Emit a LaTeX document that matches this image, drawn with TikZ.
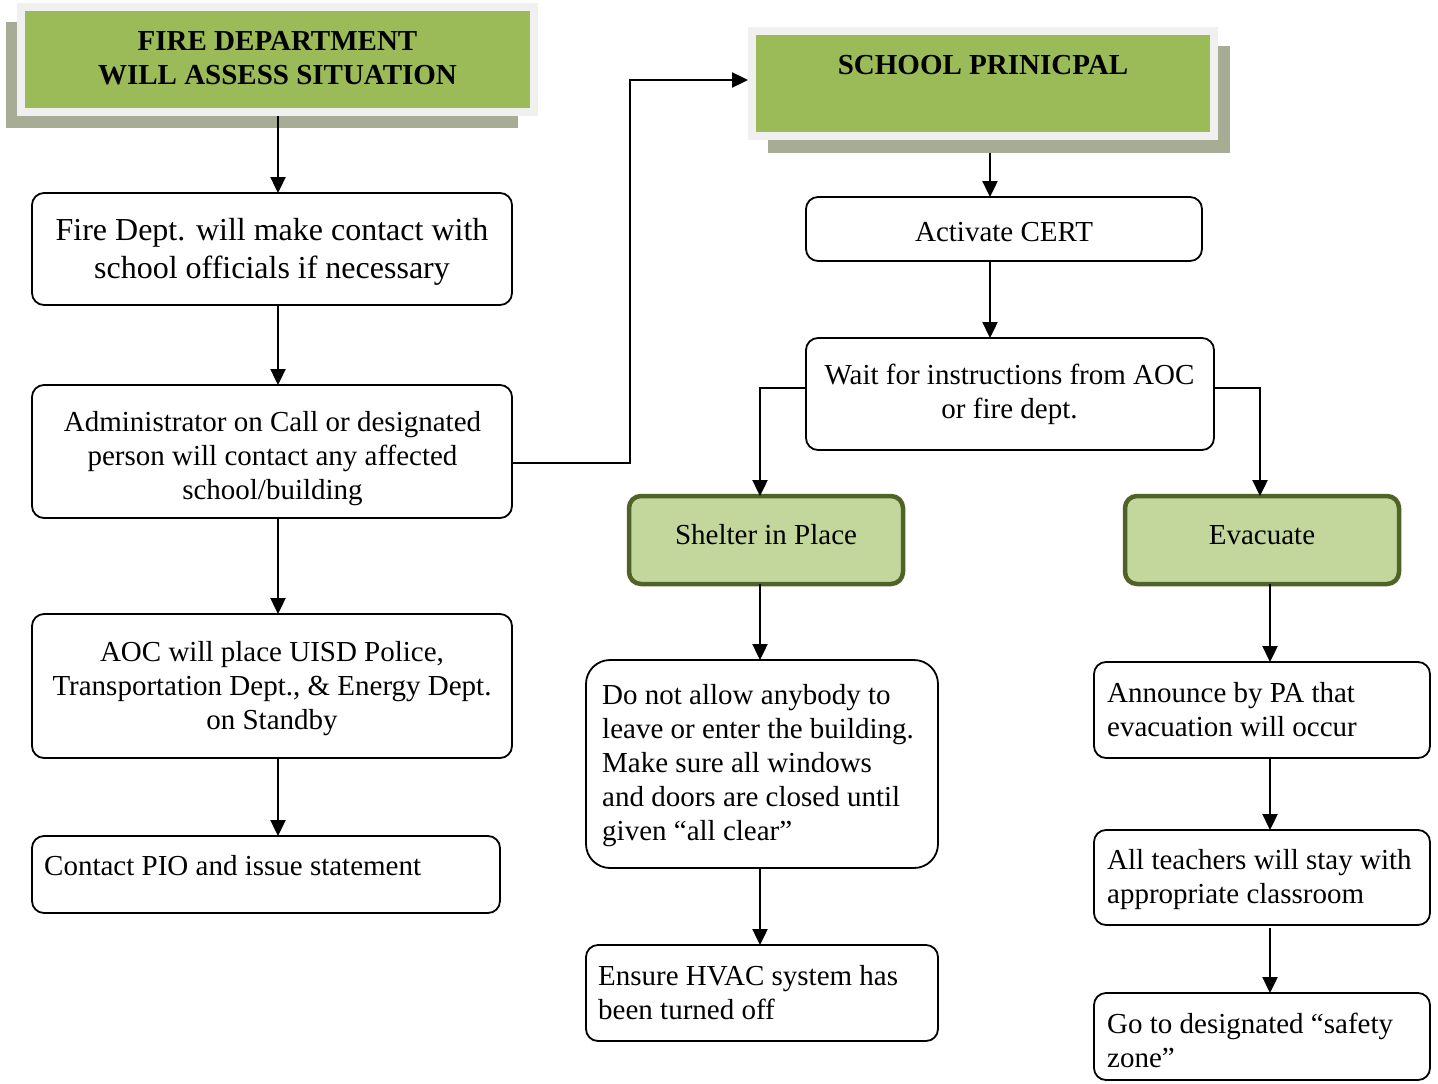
\documentclass[tikz,border=0pt]{standalone}
\usepackage{fontspec}
\setmainfont{Liberation Serif}
\usetikzlibrary{arrows.meta}

\definecolor{hdrgreen}{HTML}{9BBB59}
\definecolor{hdrframe}{HTML}{F0F0F0}
\definecolor{hdrshadow}{HTML}{A6AD94}
\definecolor{optfill}{HTML}{C3D69B}
\definecolor{optline}{HTML}{4F6228}

\begin{document}
\begin{tikzpicture}[x=1pt,y=-1pt,
  box/.style={draw=black, line width=1.8pt, rounded corners=12pt, fill=white,
              inner sep=0pt, outer sep=0pt},
  optbox/.style={draw=optline, line width=4.5pt, rounded corners=12pt, fill=optfill,
              inner sep=0pt, outer sep=0pt},
  frame/.style={fill=hdrframe, inner sep=0pt, outer sep=0pt},
  green/.style={fill=hdrgreen, inner sep=0pt, outer sep=0pt},
  shade/.style={fill=hdrshadow, inner sep=0pt, outer sep=0pt},
  linetxt/.style={inner sep=0pt, font=\fontsize{29}{34}\selectfont},
  txt/.style={linetxt, yshift=-3pt},
  bigtxt/.style={inner sep=0pt, yshift=-3pt, font=\fontsize{32}{38}\selectfont},
  hdrtxt/.style={inner sep=0pt, yshift=-1pt, font=\fontsize{29}{34}\selectfont\bfseries, align=center},
  arr/.style={line width=2.4pt, -{Triangle[length=16pt,width=15pt]}},
]
\useasboundingbox (0,0) rectangle (1438,1084);

% header: fire department
\node[shade, minimum width=512pt, minimum height=106pt] (hs1) at (262,75) {};
\node[frame, minimum width=521pt, minimum height=113pt] (hf1) at (277.5,59.5) {};
\node[green, minimum width=505pt, minimum height=97pt] (hg1) at (277.5,59.5) {};
\node[hdrtxt] (ht1) at (277.5,57) {FIRE DEPARTMENT\\WILL ASSESS SITUATION};

% header: school principal
\node[shade, minimum width=462pt, minimum height=107pt] (hs2) at (999,99.5) {};
\node[frame, minimum width=470pt, minimum height=113pt] (hf2) at (983,83.5) {};
\node[green, minimum width=454pt, minimum height=97pt] (hg2) at (983,83.5) {};
\node[hdrtxt] (ht2) at (983,64) {SCHOOL PRINICPAL};

% left column
\node[box, minimum width=480pt, minimum height=112pt] (b1) at (272,249) {};
\node[bigtxt, align=center] (t1) at (272,249) {Fire Dept. will make contact with\\school officials if necessary};
\node[box, minimum width=480pt, minimum height=133pt] (b2) at (272,451.5) {};
\node[txt, align=center] (t2) at (272.5,455.5) {Administrator on Call or designated\\person will contact any affected\\school/building};
\node[box, minimum width=480pt, minimum height=144pt] (b3) at (272,686) {};
\node[txt, align=center] (t3) at (272,686) {AOC will place UISD Police,\\Transportation Dept., \& Energy Dept.\\on Standby};
\node[box, minimum width=468pt, minimum height=77pt] (b4) at (266,874.5) {};
\node[linetxt, anchor=west] (t4) at (44,866) {Contact PIO and issue statement};

% centre column
\node[box, minimum width=396pt, minimum height=64pt] (act) at (1004,229) {};
\node[linetxt] (tact) at (1004,232) {Activate CERT};
\node[box, minimum width=408pt, minimum height=112pt] (wait) at (1010,394) {};
\node[txt, align=center] (twait) at (1009.5,391.5) {Wait for instructions from AOC\\or fire dept.};

% options
\node[optbox, minimum width=274pt, minimum height=88pt] (shelter) at (766,540) {};
\node[linetxt] (tshelter) at (766,535) {Shelter in Place};
\node[optbox, minimum width=274pt, minimum height=88pt] (evac) at (1262,540) {};
\node[linetxt] (tevac) at (1262,535) {Evacuate};

% shelter branch
\node[box, rounded corners=24pt, minimum width=352pt, minimum height=208pt] (dna) at (762,764) {};
\node[txt, anchor=west, align=left] (tdna) at (602,763) {Do not allow anybody to\\leave or enter the building.\\Make sure all windows\\and doors are closed until\\given ``all clear''};
\node[box, minimum width=352pt, minimum height=96pt] (hvac) at (762,993) {};
\node[txt, anchor=west, align=left] (thvac) at (598,990) {Ensure HVAC system has\\been turned off};

% evacuate branch
\node[box, minimum width=336pt, minimum height=96pt] (ann) at (1262,710) {};
\node[txt, anchor=west, align=left] (tann) at (1107,707) {Announce by PA that\\evacuation will occur};
\node[box, minimum width=336pt, minimum height=95pt] (teach) at (1262,877.5) {};
\node[txt, anchor=west, align=left] (tteach) at (1107,877) {All teachers will stay with\\appropriate classroom};
\node[box, minimum width=336pt, minimum height=87pt] (go) at (1262,1036.5) {};
\node[txt, anchor=west, align=left] (tgo) at (1107,1037) {Go to designated ``safety\\zone''};

% connector columns and entry points
\coordinate (colL) at (278,0);
\coordinate (colC) at (990,0);
\coordinate (colS) at (760,0);
\coordinate (colE) at (1270,0);
\coordinate (colW) at (1260,0);
\coordinate (jog) at (630,0);
\coordinate (hin) at ([yshift=3.5pt]hf2.west);
\coordinate (aout) at ([yshift=-11.5pt]b2.east);

% left column arrows
\draw[arr] (hf1.south -| colL) -- (b1.north -| colL);
\draw[arr] (b1.south -| colL) -- (b2.north -| colL);
\draw[arr] (b2.south -| colL) -- (b3.north -| colL);
\draw[arr] (b3.south -| colL) -- (b4.north -| colL);

% administrator to principal
\draw[arr] (aout) -| (jog |- hin) -- (hin);

% principal column
\draw[arr] (hs2.south -| colC) -- (act.north -| colC);
\draw[arr] (act.south -| colC) -- (wait.north -| colC);
\draw[arr] ([yshift=6pt]wait.west) -| (shelter.north -| colS);
\draw[arr] ([yshift=6pt]wait.east) -| (evac.north -| colW);

% shelter branch
\draw[arr] (shelter.south -| colS) -- (dna.north -| colS);
\draw[arr] (dna.south -| colS) -- (hvac.north -| colS);

% evacuate branch
\draw[arr] (evac.south -| colE) -- (ann.north -| colE);
\draw[arr] (ann.south -| colE) -- (teach.north -| colE);
\draw[arr] ([yshift=-3pt]teach.south -| colE) -- (go.north -| colE);
\end{tikzpicture}
\end{document}
